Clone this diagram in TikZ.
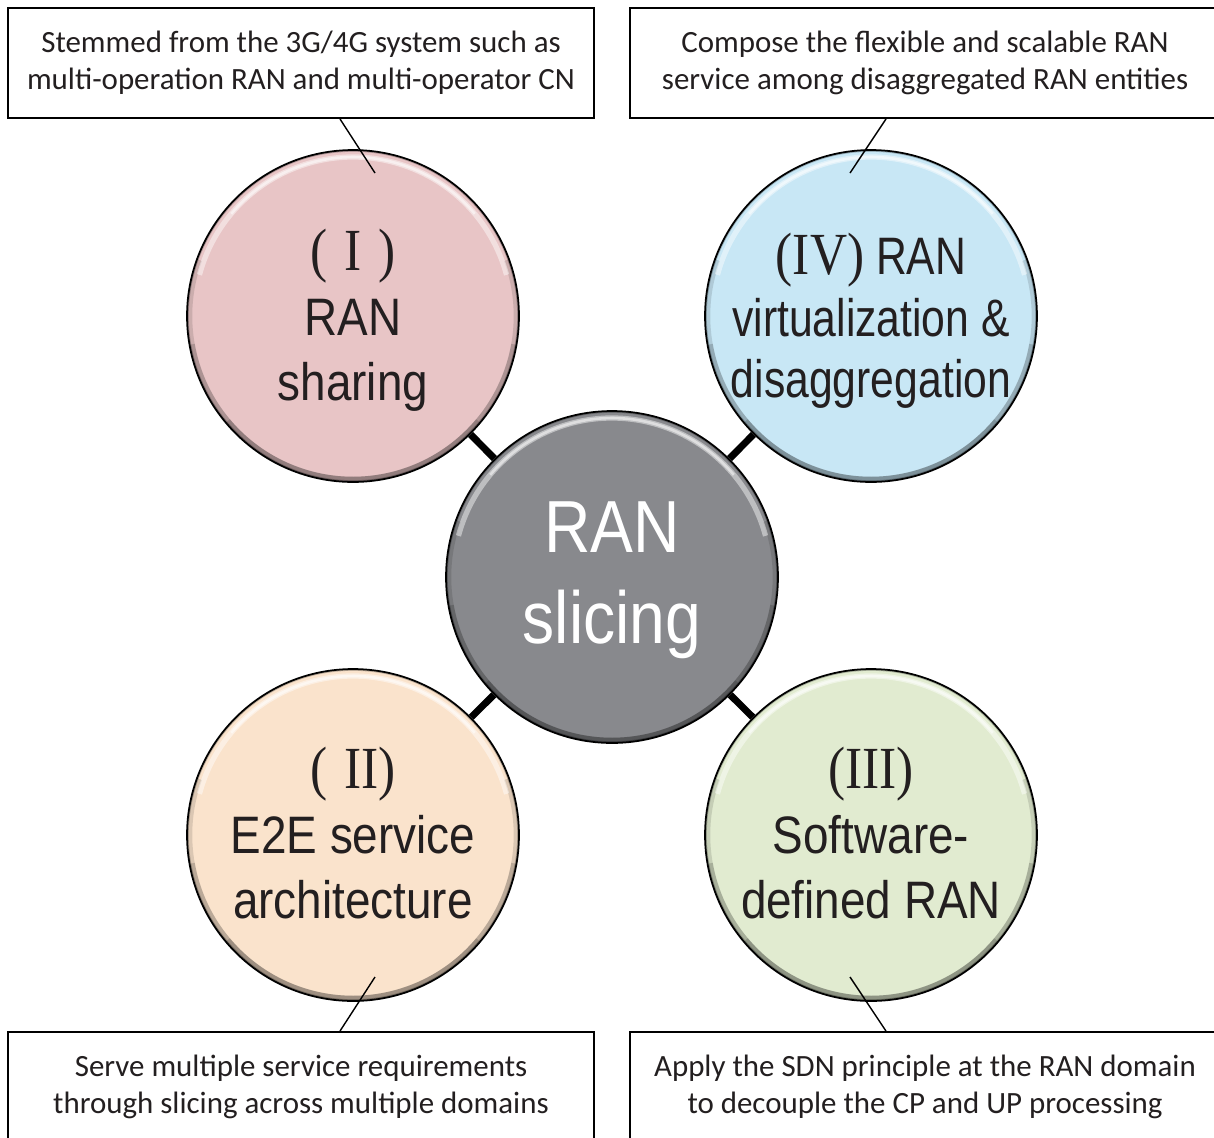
\documentclass[tikz,border=0pt]{standalone}
\usepackage{fontspec}
\setmainfont{Carlito}
\newfontfamily\narrowsans[FakeStretch=0.87]{Liberation Sans}
\newfontfamily\narrowersans[FakeStretch=0.81]{Liberation Sans}
\newfontfamily\romanfont[FakeStretch=0.86]{Liberation Serif}
\definecolor{textdark}{HTML}{231F20}
\definecolor{pinkfill}{HTML}{E8C5C6}
\definecolor{bluefill}{HTML}{C8E7F5}
\definecolor{peachfill}{HTML}{FAE3CC}
\definecolor{greenfill}{HTML}{E1EBD0}
\definecolor{greyfill}{HTML}{88898D}
\newcommand{\numeral}[1]{{\romanfont\fontsize{34}{37}\selectfont #1}}
\begin{document}
\begin{tikzpicture}[x=0.02cm,y=-0.02cm,
  bubble/.style={circle,draw=black,line width=1pt,minimum size=6.64cm,inner sep=0pt,
    path picture={
      \draw[black,opacity=.25,line width=2pt] (path picture bounding box.center) circle (3.32cm);
      \draw[black,opacity=.12,line width=6pt] (path picture bounding box.center) ++(160:3.32cm) arc[start angle=160,end angle=380,radius=3.32cm];
      \draw[black,opacity=.15,line width=6pt] (path picture bounding box.center) ++(190:3.32cm) arc[start angle=190,end angle=350,radius=3.32cm];
      \draw[black,opacity=.15,line width=6pt] (path picture bounding box.center) ++(220:3.32cm) arc[start angle=220,end angle=320,radius=3.32cm];
      \draw[white,opacity=.45,line width=3pt] (path picture bounding box.center) ++(165:3.18cm) arc[start angle=165,end angle=15,radius=3.18cm];
      \draw[white,opacity=.5,line width=1.5pt] (path picture bounding box.center) ++(140:3.18cm) arc[start angle=140,end angle=40,radius=3.18cm];
    }},
  bubtext/.style={font=\narrowsans\fontsize{30}{37}\selectfont,text=textdark,align=center},
  notebox/.style={draw,line width=1.1pt,fill=white,minimum width=11.72cm,minimum height=2.2cm,
    align=center,text=textdark,font=\fontsize{17.6}{21}\selectfont},
  link/.style={line width=4pt},
  lead/.style={line width=0.8pt}]
\useasboundingbox (0,0) rectangle (1214,1137);

% the five bubbles
\node[bubble,fill=greyfill] (c0) at (612,577) {};
\node[bubble,fill=pinkfill] (c1) at (353,316) {};
\node[bubble,fill=bluefill] (c4) at (871,316) {};
\node[bubble,fill=peachfill] (c2) at (353,835) {};
\node[bubble,fill=greenfill] (c3) at (871,835) {};

\draw[link] (c1) -- (c0);
\draw[link] (c4) -- (c0);
\draw[link] (c2) -- (c0);
\draw[link] (c3) -- (c0);

\node[bubtext,text=white,font=\narrowsans\fontsize{42}{52}\selectfont] (t0) at (612,580) {RAN\\slicing};
\node[bubtext] (t1) at (353,320) {\numeral{(\;I\;)}\\RAN\\sharing};
\node[bubtext,font=\narrowersans\fontsize{30}{35}\selectfont] (t4) at (871,321) {\numeral{(IV)} RAN\\virtualization \&\\disaggregation};
\node[bubtext] (t2) at (353,833) {\numeral{(\;II)}\\E2E service\\architecture};
\node[bubtext] (t3) at (871,833) {\numeral{(III)}\\Software-\\defined RAN};

% note boxes
\node[notebox] (b1) at (301,63) {Stemmed from the 3G/4G system such as\\multi-operation RAN and multi-operator CN};
\node[notebox,minimum width=11.8cm] (b4) at (925,63) {Compose the flexible and scalable RAN\\service among disaggregated RAN entities};
\node[notebox] (b2) at (301,1087) {Serve multiple service requirements\\through slicing across multiple domains};
\node[notebox,minimum width=11.8cm] (b3) at (925,1087) {Apply the SDN principle at the RAN domain\\to decouple the CP and UP processing};

\coordinate (p1) at (375,173);
\coordinate (p4) at (850,173);
\coordinate (p2) at (375,977);
\coordinate (p3) at (850,977);

\draw[lead] ([xshift=0.78cm]b1.south) -- (p1);
\draw[lead] ([xshift=-0.78cm]b4.south) -- (p4);
\draw[lead] ([xshift=0.78cm]b2.north) -- (p2);
\draw[lead] ([xshift=-0.78cm]b3.north) -- (p3);
\end{tikzpicture}
\end{document}
